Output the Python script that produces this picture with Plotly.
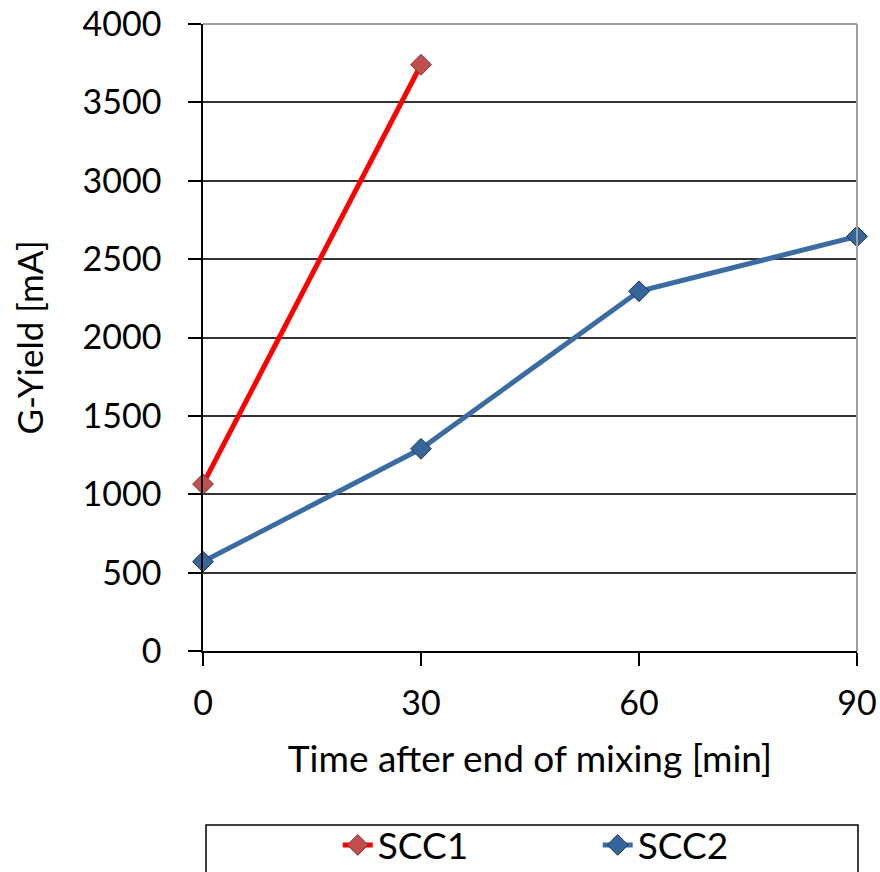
import plotly.graph_objects as go

time_min = [0, 30, 60, 90]
scc1_x = [0, 30]
scc1_y = [1065, 3740]
scc2_x = [0, 30, 60, 90]
scc2_y = [570, 1290, 2295, 2645]
y_ticks = [0, 500, 1000, 1500, 2000, 2500, 3000, 3500, 4000]

FONT = "Lato"

fig = go.Figure()
fig.add_trace(go.Scatter(
    x=scc1_x, y=scc1_y, name="SCC1", mode="lines+markers", cliponaxis=False,
    line=dict(color="#FF0000", width=5),
    marker=dict(symbol="diamond", size=16, color="#C0504D",
                line=dict(color="#7F3432", width=1)),
))
fig.add_trace(go.Scatter(
    x=scc2_x, y=scc2_y, name="SCC2", mode="lines+markers", cliponaxis=False,
    line=dict(color="#3A6CA3", width=5),
    marker=dict(symbol="diamond", size=16, color="#36659A",
                line=dict(color="#1E3550", width=1)),
))

fig.update_layout(
    width=880, height=872,
    margin=dict(l=203, r=23, t=24, b=221, autoexpand=False),
    paper_bgcolor="white", plot_bgcolor="white",
    font=dict(family=FONT, size=34, color="black"),
    showlegend=True,
    legend=dict(orientation="h", x=0.206, xanchor="left", y=-0.31, yanchor="middle",
                font=dict(family=FONT, size=37, color="black"),
                entrywidth=215, bgcolor="rgba(0,0,0,0)", borderwidth=0),
    xaxis=dict(range=[0, 90], tickvals=time_min, ticktext=[str(t) for t in time_min],
               automargin=False,
               showgrid=False, zeroline=False, showline=True, linecolor="black", linewidth=1.5,
               ticks="outside", ticklen=13, tickcolor="black", tickwidth=1.5,
               ticklabelstandoff=8,
               title=dict(text="Time after end of mixing [min]", standoff=26,
                          font=dict(family=FONT, size=37))),
    yaxis=dict(range=[0, 4000], tickvals=y_ticks, showgrid=True, gridcolor="#333333", gridwidth=1.5,
               automargin=False,
               zeroline=False, showline=True, linecolor="black", linewidth=1.5,
               ticks="outside", ticklen=13, tickcolor="black", tickwidth=1.5,
               ticklabelstandoff=20,
               title=dict(text="G-Yield [mA]", standoff=28,
                          font=dict(family=FONT, size=35))),
    shapes=[
        dict(type="line", xref="paper", yref="paper", x0=0, x1=1, y0=1, y1=1,
             line=dict(color="#A0A0A0", width=2)),
        dict(type="line", xref="paper", yref="paper", x0=1, x1=1, y0=0, y1=1,
             line=dict(color="#A0A0A0", width=2)),
        dict(type="rect", xref="paper", yref="paper", x0=0.0046, x1=1.0015,
             y0=-0.2775, y1=-0.45, line=dict(color="black", width=1.5)),
    ],
)

fig.write_html("out.html")
